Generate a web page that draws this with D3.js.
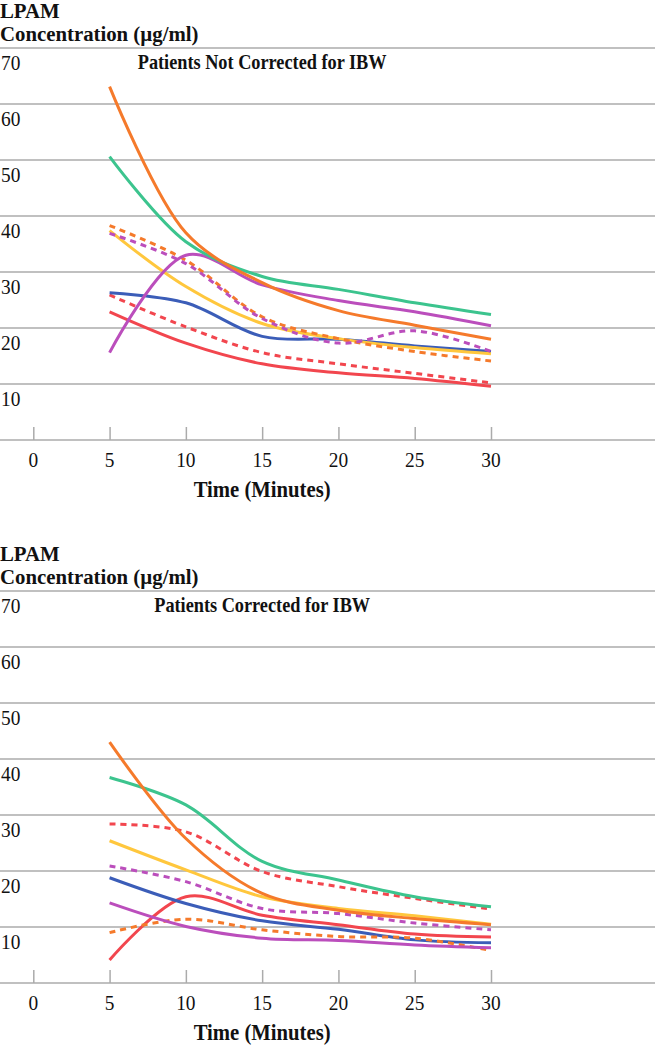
<!DOCTYPE html>
<html>
<head>
<meta charset="utf-8">
<script src="https://cdn.jsdelivr.net/npm/d3@7"></script>
<style>
  html, body { margin: 0; padding: 0; background: #fff; }
  svg { display: block; }
  text { font-family: "Liberation Serif", "Times New Roman", serif; fill: #111; }
</style>
</head>
<body>
<svg id="chart" width="655" height="1050"></svg>
<script>
// ---------------- DATA ----------------
const times = [5, 10, 15, 20, 25, 30];
const xTicks = [0, 5, 10, 15, 20, 25, 30];
const yTicks = [10, 20, 30, 40, 50, 60, 70];
const yTitleLines = ["LPAM", "Concentration (µg/ml)"];
const xTitle = "Time (Minutes)";
const panelTitles = ["Patients Not Corrected for IBW", "Patients Corrected for IBW"];

const seriesKeys  = ["orange", "green", "purple", "orangeDash", "purpleDash", "yellow", "blue", "redDash", "red"];
const seriesColor = ["#F57A2B", "#3CC48E", "#BB4EBC", "#F57A2B", "#BB4EBC", "#FFC73D", "#3B5DB8", "#F2464E", "#F2464E"];
const seriesDashed = [false, false, false, true, true, false, false, true, false];

// Panel 1: Patients Not Corrected for IBW
const notCorrOrange     = [63.1, 37.0, 28.1, 23.1, 20.5, 18.0];
const notCorrGreen      = [50.6, 35.4, 29.2, 26.9, 24.5, 22.4];
const notCorrPurple     = [15.6, 33.0, 27.7, 24.9, 22.9, 20.4];
const notCorrOrangeDash = [38.3, 32.1, 22.0, 18.1, 15.8, 14.1];
const notCorrPurpleDash = [36.9, 31.5, 21.7, 17.3, 19.5, 15.8];
const notCorrYellow     = [37.4, 27.4, 20.8, 18.1, 16.5, 15.4];
const notCorrBlue       = [26.3, 24.5, 18.5, 18.0, 16.8, 15.8];
const notCorrRedDash    = [25.9, 20.2, 15.6, 13.6, 11.9, 10.2];
const notCorrRed        = [22.9, 17.3, 13.6, 12.0, 11.0,  9.6];

// Panel 2: Patients Corrected for IBW
const corrOrange     = [43.0, 25.8, 16.0, 13.0, 11.5, 10.4];
const corrGreen      = [36.7, 31.8, 21.7, 18.4, 15.4, 13.6];
const corrPurple     = [14.3, 10.1,  8.0,  7.6,  6.8,  6.3];
const corrOrangeDash = [ 9.0, 11.4,  9.5,  8.3,  8.0,  5.8];
const corrPurpleDash = [20.9, 18.1, 13.3, 12.4, 10.7,  9.5];
const corrYellow     = [25.4, 20.2, 15.4, 13.3, 12.0, 10.5];
const corrBlue       = [18.8, 14.2, 11.1,  9.6,  7.7,  7.2];
const corrRedDash    = [28.4, 27.0, 19.9, 17.2, 15.1, 13.2];
const corrRed        = [ 4.1, 15.4, 12.1, 10.4,  8.75, 8.2];

const panelSeries = [
  [notCorrOrange, notCorrGreen, notCorrPurple, notCorrOrangeDash, notCorrPurpleDash, notCorrYellow, notCorrBlue, notCorrRedDash, notCorrRed],
  [corrOrange, corrGreen, corrPurple, corrOrangeDash, corrPurpleDash, corrYellow, corrBlue, corrRedDash, corrRed]
];
// draw order (back to front)
const drawOrder = [7, 8, 6, 5, 3, 4, 2, 1, 0];

// ---------------- LAYOUT ----------------
const W = 655;
const panelOffsets = [0, 543];
const plotTop = 48, plotBottom = 440;
const xLeft = 33.3, xRight = 491;

const svg = d3.select("#chart");

function addText(g, str, x, y, opts) {
  const sx = opts.sx || 1;
  const t = g.append("text")
    .attr("transform", `translate(${x},${y}) scale(${sx},1)`)
    .attr("text-anchor", opts.anchor || "start")
    .style("font-size", opts.size + "px")
    .style("font-weight", opts.bold ? "bold" : "normal")
    .text(str);
  return t;
}

panelOffsets.forEach((off, pi) => {
  const g = svg.append("g").attr("transform", `translate(0,${off})`);
  const x = d3.scaleLinear().domain([0, 30]).range([xLeft, xRight]);
  const y = d3.scaleLinear().domain([0, 70]).range([plotBottom, plotTop]);

  // y axis title
  addText(g, yTitleLines[0], 0, 18, {size: 20, bold: true, sx: 1.04});
  addText(g, yTitleLines[1], 0, 41, {size: 20, bold: true, sx: 1.04});

  // gridlines
  g.append("g").selectAll("line").data(yTicks).join("line")
    .attr("x1", 0).attr("x2", W)
    .attr("y1", d => y(d)).attr("y2", d => y(d))
    .attr("stroke", "#ababab").attr("stroke-width", 1.5);

  // y tick labels (below their gridline)
  yTicks.forEach(v => addText(g, String(v), 1, y(v) + 22, {size: 22, sx: 0.88}));

  // x axis line
  g.append("line").attr("x1", 0).attr("x2", W)
    .attr("y1", y(0)).attr("y2", y(0))
    .attr("stroke", "#ababab").attr("stroke-width", 1.5);

  // x axis ticks (pointing up) and labels
  const xAxis = d3.axisTop(x).tickValues(xTicks).tickSize(13).tickFormat("");
  const ax = g.append("g").attr("transform", `translate(0,${y(0)})`).call(xAxis);
  ax.select(".domain").remove();
  ax.selectAll(".tick line").attr("stroke", "#ababab").attr("stroke-width", 1.5);
  xTicks.forEach(v => addText(g, String(v), x(v), y(0) + 27, {size: 22, sx: 0.88, anchor: "middle"}));

  // x axis title
  addText(g, xTitle, x(15), y(0) + 57, {size: 23, bold: true, sx: 0.9, anchor: "middle"});

  // panel title
  addText(g, panelTitles[pi], x(15), y(70) + 21, {size: 21, bold: true, sx: 0.87, anchor: "middle"});

  // lines
  const line = d3.line()
    .x(d => x(d[0]))
    .y(d => y(d[1]))
    .curve(d3.curveCatmullRom.alpha(0.5));

  drawOrder.forEach(si => {
    const vals = panelSeries[pi][si];
    const pts = times.map((t, i) => [t, vals[i]]);
    g.append("path")
      .datum(pts)
      .attr("class", "series " + seriesKeys[si])
      .attr("d", line)
      .attr("fill", "none")
      .attr("stroke", seriesColor[si])
      .attr("stroke-width", 3)
      .attr("stroke-dasharray", seriesDashed[si] ? "6,5" : null);
  });
});
</script>
</body>
</html>
